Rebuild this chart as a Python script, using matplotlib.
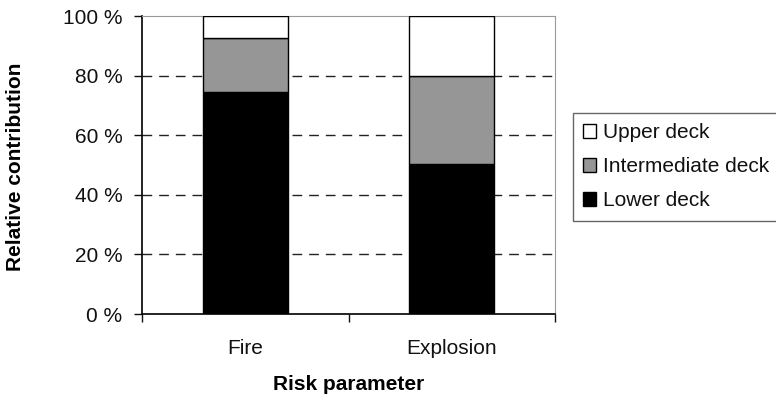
"""Contribuição relativa por convés para fogo e explosão."""

import matplotlib
matplotlib.use("Agg")
import matplotlib.pyplot as plt
import numpy as np

plt.rcParams.update({
    "font.family": ["Liberation Sans", "DejaVu Sans"],
    "font.size": 15,
    "text.color": "#111111",
    "xtick.color": "#111111",
    "ytick.color": "#111111",
})

# dados (em %)
categories = ["Fire", "Explosion"]
lower_deck = [74.5, 50.5]
intermediate_deck = [18.0, 29.5]
upper_deck = [7.5, 20.0]
series_names = ["Lower deck", "Intermediate deck", "Upper deck"]
y_ticks = [0, 20, 40, 60, 80, 100]

_CLR = ["#000000", "#969696", "#FFFFFF"]

fig = plt.figure(figsize=(7.76, 3.99), dpi=100)
ax = fig.add_axes([142 / 776, 1 - 314 / 399, 413 / 776, 298 / 399])

x = np.arange(len(categories))
bottom = np.zeros(len(categories))
handles = []
for vals, name, clr in zip([lower_deck, intermediate_deck, upper_deck], series_names, _CLR):
    h = ax.bar(x, vals, width=0.41, bottom=bottom, color=clr,
               edgecolor="black", linewidth=1.0, zorder=3, label=name)
    handles.append(h)
    bottom += np.array(vals)

ax.set_xlim(-0.5, 1.5)
ax.set_ylim(0, 100)

# grade tracejada
for yv in y_ticks[1:-1]:
    ax.axhline(yv, color="#222222", linewidth=1.0, linestyle=(0, (7, 5)), zorder=1)

ax.set_yticks(y_ticks)
ax.set_yticklabels([f"{v} %" for v in y_ticks])
ax.tick_params(axis="y", direction="out", length=6, width=1, pad=8)

ax.set_xticks(x)
ax.set_xticklabels(categories)
ax.tick_params(axis="x", which="major", length=0, pad=18)
ax.set_xticks([-0.5, 0.5, 1.5], minor=True)
ax.tick_params(axis="x", which="minor", direction="out", length=6, width=1)

for side in ("top", "right"):
    ax.spines[side].set_color("#999999")
for side in ("left", "bottom"):
    ax.spines[side].set_color("black")
    ax.spines[side].set_linewidth(1.2)

ax.set_xlabel("Risk parameter", fontweight="bold", va="center")
ax.set_ylabel("Relative contribution", fontweight="bold", va="center")
ax.xaxis.set_label_coords(0.5, -0.238)
ax.yaxis.set_label_coords(-0.307, 0.495)

leg = fig.legend(handles[::-1], series_names[::-1],
                 loc="upper left", bbox_to_anchor=(573 / 776, 1 - 113 / 399),
                 frameon=True, fancybox=False, framealpha=1,
                 edgecolor="#666666", borderpad=0.5,
                 handlelength=0.6, handleheight=0.6, handletextpad=0.35,
                 labelspacing=0.72, borderaxespad=0)
leg.get_frame().set_linewidth(1.0)

fig.savefig("out.png", dpi=100)
plt.close(fig)
